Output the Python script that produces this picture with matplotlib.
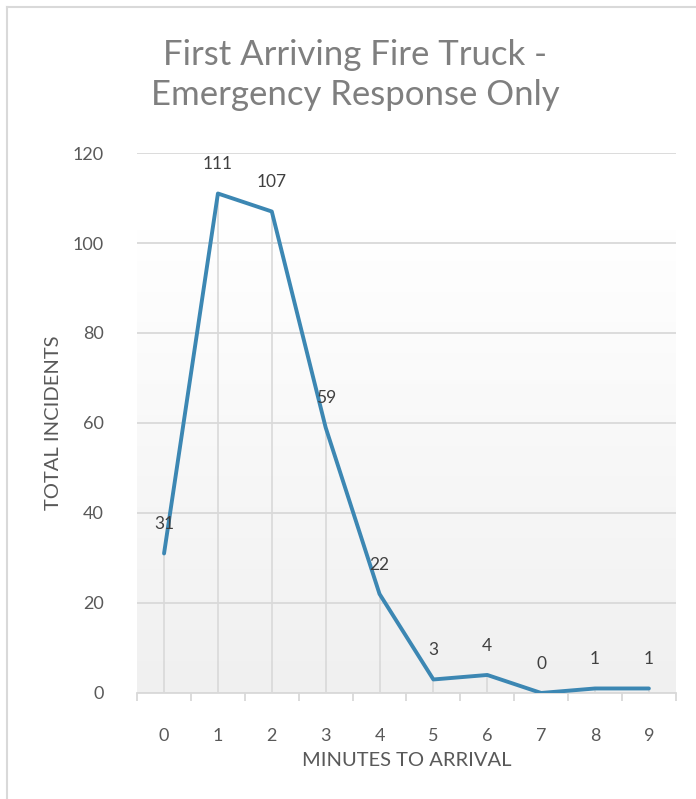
import numpy as np
from matplotlib import pyplot as plt
from matplotlib.lines import Line2D

# data
minutes = [0, 1, 2, 3, 4, 5, 6, 7, 8, 9]
incidents = [31, 111, 107, 59, 22, 3, 4, 0, 1, 1]
y_ticks = [0, 20, 40, 60, 80, 100, 120]

plt.rcParams['font.family'] = ['Lato', 'DejaVu Sans']

fig = plt.figure(figsize=(6.96, 7.99), dpi=100)
ax = fig.add_axes([0.197, 0.1327, 0.774, 0.6758])

ax.set_xlim(-0.5, len(minutes) - 0.5)
ax.set_ylim(0, 120)

# gradient background of the plot area
grad = np.linspace(0, 1, 256).reshape(-1, 1)
ax.imshow(grad, extent=[-0.5, len(minutes) - 0.5, 0, 103], aspect='auto',
          cmap=plt.matplotlib.colors.LinearSegmentedColormap.from_list('g', ['#f0f0f0', '#ffffff']),
          origin='lower', zorder=0)

ax.grid(axis='y', color='#d9d9d9', linewidth=1.3)
ax.set_axisbelow(True)

# drop lines
ax.vlines(minutes, 0, incidents, color='#d9d9d9', linewidth=1.2, zorder=1)

ax.plot(minutes, incidents, color='#3c87b3', linewidth=2.8, solid_capstyle='round', zorder=3)

for x, y in zip(minutes, incidents):
    ax.annotate(str(y), (x, y), textcoords='offset points', xytext=(0, 21),
                ha='center', va='center', fontsize=12.5, color='#404040', zorder=4)

for s in ['top', 'right', 'left']:
    ax.spines[s].set_visible(False)
ax.spines['bottom'].set_color('#d9d9d9')
ax.spines['bottom'].set_linewidth(1.3)

ax.set_xticks(minutes)
ax.set_xticklabels([str(m) for m in minutes])
ax.set_xticks(np.arange(-0.5, len(minutes), 1), minor=True)
ax.tick_params(axis='x', which='major', length=0, pad=25, labelsize=13, labelcolor='#595959')
ax.tick_params(axis='x', which='minor', length=6, width=1.3, color='#d9d9d9')
ax.set_yticks(y_ticks)
ax.tick_params(axis='y', length=0, pad=24, labelsize=13, labelcolor='#595959')

ax.set_xlabel('MINUTES TO ARRIVAL', fontsize=14.5, color='#595959', labelpad=6)
ax.set_ylabel('TOTAL INCIDENTS', fontsize=14.5, color='#595959', labelpad=8)

fig.text(0.51, 0.906, 'First Arriving Fire Truck -\nEmergency Response Only',
         ha='center', va='center', fontsize=25, color='#7f7f7f', linespacing=1.3)

# chart border
fig.add_artist(Line2D([0.0101, 0.0101], [0, 0.991], transform=fig.transFigure, color='#d9d9d9', linewidth=1.5))
fig.add_artist(Line2D([0.0101, 1], [0.991, 0.991], transform=fig.transFigure, color='#d9d9d9', linewidth=1.5))

fig.savefig('out.png', dpi=100)
